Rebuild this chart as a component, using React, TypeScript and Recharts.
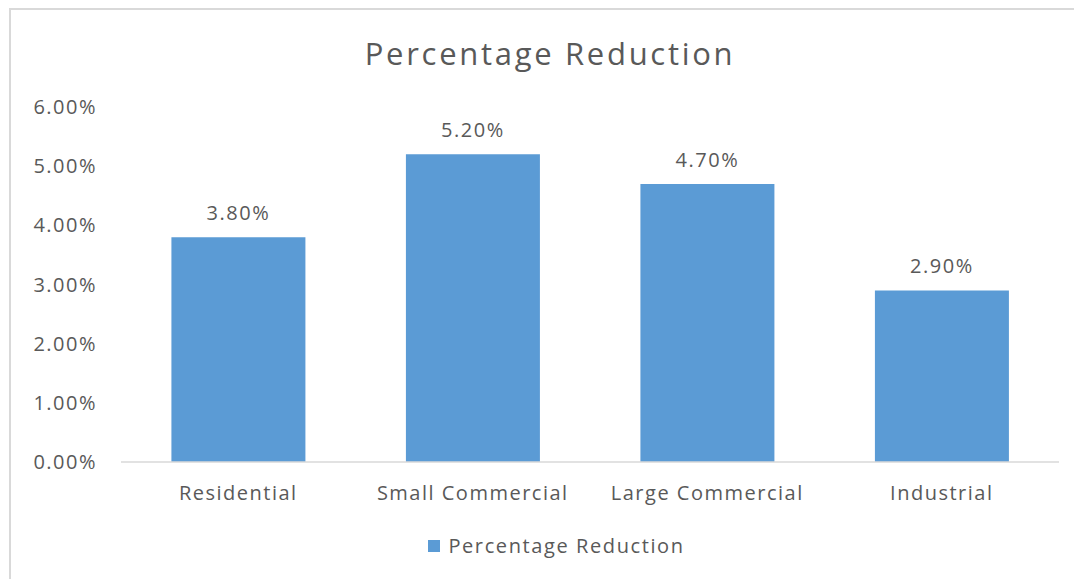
import React from 'react';
import { BarChart, Bar, XAxis, YAxis, Legend, LabelList } from 'recharts';

const categories = ['Residential', 'Small Commercial', 'Large Commercial', 'Industrial'];
const reduction = [0.038, 0.052, 0.047, 0.029];
const yTicks = [0, 0.01, 0.02, 0.03, 0.04, 0.05, 0.06];

const data = categories.map((name, i) => ({ name, reduction: reduction[i] }));

const pct = (v: number) => `${(v * 100).toFixed(2)}%`;

const FONT = '"Open Sans", sans-serif';
const TEXT = '#595959';
const BAR = '#5b9bd5';
const textStyle = { fill: TEXT, fontSize: 20, fontFamily: FONT, letterSpacing: 1.5 };

// legend drawn as square + label, Excel style
const renderLegend = (props: any) => {
  const items = props.payload || [];
  return (
    <div style={{ display: 'flex', justifyContent: 'center', paddingLeft: 46 }}>
      {items.map((it: any) => (
        <div key={it.value} style={{ display: 'flex', alignItems: 'center' }}>
          <span style={{ display: 'inline-block', width: 12, height: 12, background: it.color, marginRight: 8 }} />
          <span style={{ color: TEXT, fontSize: 20, letterSpacing: 1.6, fontFamily: FONT }}>{it.value}</span>
        </div>
      ))}
    </div>
  );
};

const App: React.FC = () => {
  return (
    <div style={{ position: 'relative', width: 1074, height: 571, fontFamily: FONT }}>
      <div
        style={{
          position: 'absolute',
          left: 1,
          top: 0,
          width: 1073,
          height: 571,
          borderLeft: '2px solid #d9d9d9',
          borderTop: '2px solid #d9d9d9',
        }}
      />
      <div
        style={{
          position: 'absolute',
          left: 0,
          top: 26,
          width: 1084,
          textAlign: 'center',
          fontSize: 31,
          letterSpacing: 2.7,
          color: TEXT,
          lineHeight: '38px',
        }}
      >
        Percentage Reduction
      </div>
      <div style={{ position: 'absolute', left: 0, top: 0 }}>
        <BarChart
          width={1074}
          height={571}
          data={data}
          margin={{ top: 99, right: 23, left: 0, bottom: 60 }}
          barCategoryGap="21.5%"
        >
          <XAxis
            dataKey="name"
            axisLine={{ stroke: '#d9d9d9', strokeWidth: 1.5 }}
            tickLine={false}
            tick={textStyle}
            tickMargin={18}
            height={30}
          />
          <YAxis
            width={113}
            domain={[0, 0.06]}
            ticks={yTicks}
            tickFormatter={pct}
            axisLine={false}
            tickLine={false}
            tickSize={0}
            tickMargin={24}
            tick={textStyle}
          />
          <Legend
            verticalAlign="bottom"
            content={renderLegend}
            wrapperStyle={{ top: 524, bottom: 'auto' }}
          />
          <Bar dataKey="reduction" name="Percentage Reduction" fill={BAR} isAnimationActive={false}>
            <LabelList
              dataKey="reduction"
              position="top"
              offset={17}
              formatter={(v: any) => pct(Number(v))}
              style={textStyle}
            />
          </Bar>
        </BarChart>
      </div>
    </div>
  );
};

export default App;
